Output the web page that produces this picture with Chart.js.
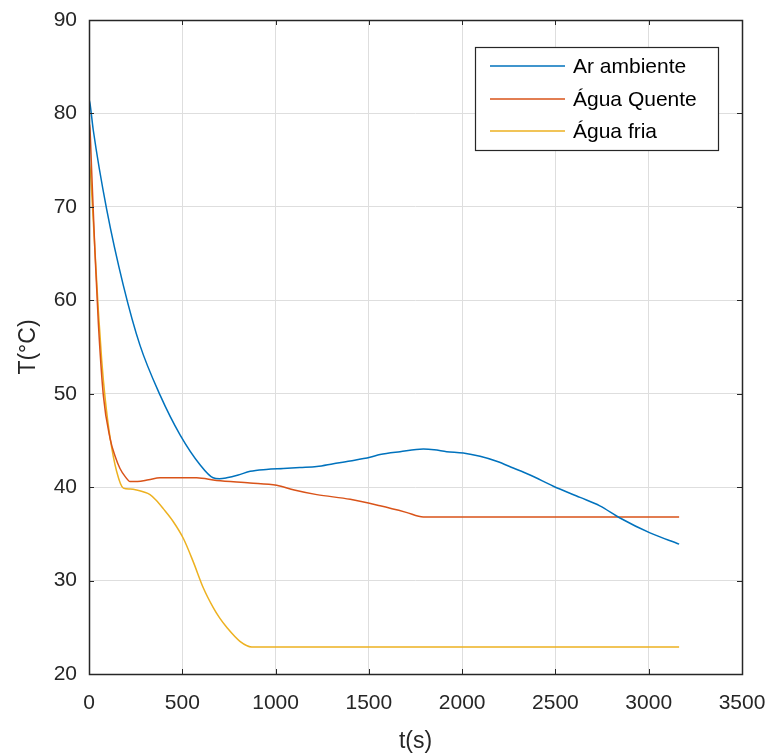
<!DOCTYPE html>
<html>
<head>
<meta charset="utf-8">
<script src="https://cdn.jsdelivr.net/npm/chart.js@4"></script>
<style>
html,body{margin:0;padding:0;background:#fff;}
#wrap{width:771px;height:755px;position:relative;}
</style>
</head>
<body>
<div id="wrap"><canvas id="c" width="771" height="755"></canvas></div>
<script>
// ---- data ----
const seriesLabels = ['Ar ambiente', 'Água Quente', 'Água fria'];
const xTicks = [0, 500, 1000, 1500, 2000, 2500, 3000, 3500];
const yTicks = [20, 30, 40, 50, 60, 70, 80, 90];

const tAr = [0, 5, 23, 95, 184, 273, 381, 488, 595, 665, 700, 738, 800, 864, 950, 1041, 1130, 1221, 1310, 1400, 1506, 1560, 1667, 1792, 1850, 1917, 2006, 2096, 2185, 2274, 2364, 2489, 2632, 2738, 2846, 3007, 3163];
const ar  = [81.5, 81.1, 78.2, 69.7, 61.6, 55.2, 49.85, 45.6, 42.4, 41.0, 40.9, 41.0, 41.3, 41.7, 41.9, 42.0, 42.1, 42.2, 42.5, 42.8, 43.2, 43.5, 43.8, 44.07, 44.0, 43.8, 43.65, 43.3, 42.77, 42.05, 41.3, 40.1, 38.9, 38.0, 36.7, 35.1, 33.9];

const tQuente = [0, 5, 14, 32, 50, 77, 113, 140, 166, 195, 220, 260, 320, 381, 450, 506, 577, 684, 863, 1006, 1100, 1221, 1400, 1560, 1700, 1792, 2200, 2600, 3000, 3163];
const quente  = [79.0, 78.4, 74.0, 65.1, 57.6, 49.8, 45.2, 43.3, 42.0, 41.1, 40.6, 40.6, 40.8, 41.0, 41.0, 41.0, 41.0, 40.7, 40.45, 40.2, 39.7, 39.2, 38.7, 38.0, 37.3, 36.8, 36.8, 36.8, 36.8, 36.8];

const tFria = [0, 3, 8, 19, 32, 50, 68, 86, 113, 148, 184, 220, 255, 290, 327, 360, 398, 452, 506, 559, 613, 666, 700, 738, 809, 872, 1500, 2200, 2800, 3163];
const fria  = [75.0, 74.5, 73.6, 69.9, 65.3, 58.9, 53.6, 49.6, 45.3, 41.7, 39.9, 39.8, 39.7, 39.5, 39.2, 38.6, 37.7, 36.3, 34.5, 32.0, 29.2, 27.1, 26.0, 25.0, 23.5, 22.9, 22.9, 22.9, 22.9, 22.9];

const colors = ['#0072BD', '#D95319', '#EDB120'];
const FONT = "'Liberation Sans', Arial, Helvetica, sans-serif";

function pts(xs, ys) { return xs.map((x, i) => ({ x: x, y: ys[i] })); }

const boxPlugin = {
  id: 'matlabBox',
  afterDraw(chart) {
    const ctx = chart.ctx;
    const a = chart.chartArea;
    const xs = chart.scales.x, ys = chart.scales.y;
    ctx.save();
    // inward ticks
    ctx.strokeStyle = '#262626';
    ctx.lineWidth = 1;
    const L = 5;
    ctx.beginPath();
    xTicks.forEach(v => {
      const px = Math.round(xs.getPixelForValue(v)) + 0.5;
      ctx.moveTo(px, a.bottom); ctx.lineTo(px, a.bottom - L);
      ctx.moveTo(px, a.top); ctx.lineTo(px, a.top + L);
    });
    yTicks.forEach(v => {
      const py = Math.round(ys.getPixelForValue(v)) + 0.5;
      ctx.moveTo(a.left, py); ctx.lineTo(a.left + L, py);
      ctx.moveTo(a.right, py); ctx.lineTo(a.right - L, py);
    });
    ctx.stroke();
    // box
    ctx.lineWidth = 1.5;
    ctx.strokeRect(Math.round(a.left) + 0.5, Math.round(a.top) + 0.5, Math.round(a.right - a.left), Math.round(a.bottom - a.top));
    // legend
    const lx = 475, ly = 47, lw = 243, lh = 103;
    ctx.fillStyle = '#fff';
    ctx.fillRect(lx, ly, lw, lh);
    ctx.lineWidth = 1.2;
    ctx.strokeStyle = '#262626';
    ctx.strokeRect(lx + 0.5, ly + 0.5, lw, lh);
    const rows = [66, 99, 131];
    ctx.font = '21px ' + FONT;
    ctx.textBaseline = 'middle';
    ctx.textAlign = 'left';
    chart.data.datasets.forEach((ds, i) => {
      ctx.strokeStyle = ds.borderColor;
      ctx.lineWidth = 1.5;
      ctx.beginPath();
      ctx.moveTo(490, rows[i]); ctx.lineTo(565, rows[i]);
      ctx.stroke();
      ctx.fillStyle = '#000';
      ctx.fillText(ds.label, 573, rows[i] + 1);
    });
    ctx.restore();
  }
};

new Chart(document.getElementById('c'), {
  type: 'line',
  data: {
    datasets: [
      { label: seriesLabels[0], data: pts(tAr, ar), borderColor: colors[0] },
      { label: seriesLabels[1], data: pts(tQuente, quente), borderColor: colors[1] },
      { label: seriesLabels[2], data: pts(tFria, fria), borderColor: colors[2] }
    ].map(d => Object.assign(d, { borderWidth: 1.5, pointRadius: 0, fill: false, cubicInterpolationMode: 'monotone' }))
  },
  options: {
    responsive: false,
    animation: false,
    devicePixelRatio: 1,
    layout: { padding: { left: 0, top: 20, right: 29, bottom: 0 } },
    plugins: { legend: { display: false }, tooltip: { enabled: false } },
    scales: {
      x: {
        type: 'linear', min: 0, max: 3500,
        afterBuildTicks: s => { s.ticks = xTicks.map(v => ({ value: v })); },
        afterFit: s => { s.height = 81; s.paddingLeft = 0; s.paddingRight = 0; },
        grid: { color: '#dedede', lineWidth: 1, drawTicks: false },
        border: { display: false },
        ticks: { color: '#262626', font: { family: FONT, size: 21 }, padding: 17, maxRotation: 0, autoSkip: false, callback: v => String(v) },
        title: { display: true, text: 't(s)', color: '#262626', font: { family: FONT, size: 23 }, padding: { top: 0, bottom: 0 } }
      },
      y: {
        type: 'linear', min: 20, max: 90,
        afterBuildTicks: s => { s.ticks = yTicks.map(v => ({ value: v })); },
        afterFit: s => { s.width = 89; s.paddingTop = 0; s.paddingBottom = 0; },
        grid: { color: '#dedede', lineWidth: 1, drawTicks: false },
        border: { display: false },
        ticks: { color: '#262626', font: { family: FONT, size: 21 }, padding: 12, autoSkip: false, callback: v => String(v) },
        title: { display: true, text: 'T(°C)', color: '#262626', font: { family: FONT, size: 23 }, padding: { top: 15, bottom: 0 } }
      }
    }
  },
  plugins: [boxPlugin]
});
</script>
</body>
</html>
